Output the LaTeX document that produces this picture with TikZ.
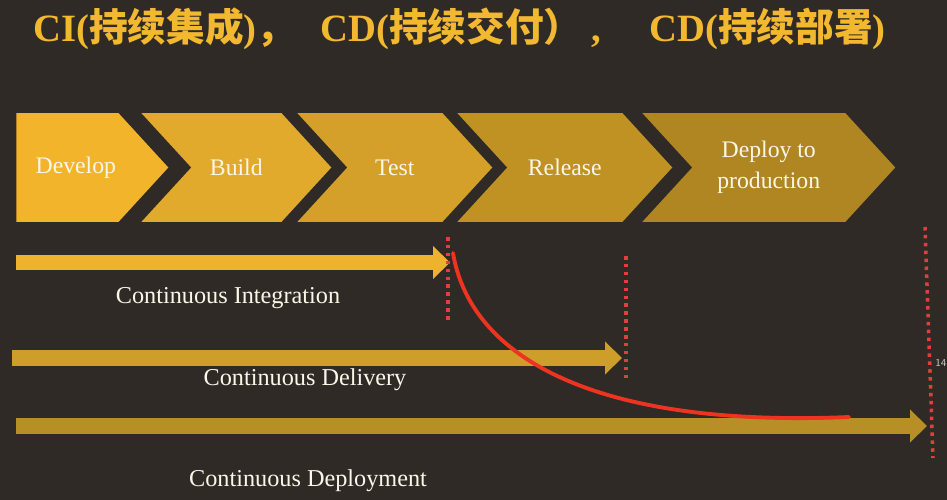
\documentclass[tikz,border=0pt]{standalone}
\usepackage{fontspec}
\setmainfont{Liberation Serif}
\newfontfamily\cjk{Noto Sans CJK SC}
\usetikzlibrary{positioning,shapes.symbols,arrows.meta}

\definecolor{slidebg}{RGB}{47,42,38}
\definecolor{titlegold}{RGB}{242,184,48}
\definecolor{labelwhite}{RGB}{250,246,232}
\definecolor{cutred}{RGB}{238,52,32}
\definecolor{dotred}{RGB}{226,62,62}

\tikzset{
  stage/.style={signal, signal to=east, signal from=west, signal pointer angle=95,
    minimum height=2.18cm, inner sep=0pt, text=labelwhite, align=center,
    font=\fontsize{13.5}{17.6}\selectfont},
  headline/.style={anchor=west, text=titlegold, inner sep=0pt,
    font=\fontsize{22}{24}\selectfont\bfseries},
  bigarrow/.style={line width=0.32cm, -{Triangle[length=0.34cm, width=0.64cm]}},
  dotline/.style={dotred, line width=2pt, line cap=butt, dash pattern=on 2pt off 2.5pt},
  caption/.style={text=labelwhite, font=\fontsize{13.8}{16}\selectfont}
}

\begin{document}
\begin{tikzpicture}[x=0.02cm, y=-0.02cm]
        \fill[slidebg] (0,0) rectangle (947,500);
        \useasboundingbox (0,0) rectangle (947,500);

        \node (ci) [headline] at (33, 29) {CI(\cjk\bfseries 持续集成\rmfamily\bfseries)\cjk\bfseries ，};
        \node (cd) [headline] at (320, 29) {CD(\cjk\bfseries 持续交付）\rmfamily\bfseries\ ,};
        \node (cdeploy) [headline] at (649, 29) {CD(\cjk\bfseries 持续部署\rmfamily\bfseries)};

        \node (develop) [stage, signal from=nowhere, minimum width=3.04cm, fill={rgb,255:red,242;green,180;blue,42}, anchor=west] at (16, 167.5) {\hspace{0.34cm}Develop};
        \node (build) [stage, minimum width=3.8cm, fill={rgb,255:red,226;green,170;blue,44}, right=0.44cm of develop] {Build};
        \node (test) [stage, minimum width=3.9cm, fill={rgb,255:red,212;green,160;blue,42}, right=0.3cm of build] {Test};
        \node (release) [stage, minimum width=4.3cm, fill={rgb,255:red,192;green,146;blue,36}, right=0.28cm of test] {Release};
        \node (deploy) [stage, minimum width=5.06cm, fill={rgb,255:red,176;green,134;blue,34}, right=0.38cm of release] {Deploy to\\production};

        \coordinate (ciStart) at (16, 262.5);
        \coordinate (ciEnd) at (450, 262.5);
        \coordinate (cdStart) at (12, 358);
        \coordinate (cdEnd) at (622, 358);
        \coordinate (depStart) at (16, 426);
        \coordinate (depEnd) at (927, 426);
        \draw[bigarrow, color={rgb,255:red,238;green,178;blue,46}] (ciStart) -- (ciEnd);
        \draw[bigarrow, color={rgb,255:red,206;green,158;blue,42}] (cdStart) -- (cdEnd);
        \draw[bigarrow, color={rgb,255:red,184;green,142;blue,38}] (depStart) -- (depEnd);

        \node (ciText) [caption] at (228, 298) {Continuous Integration};
        \node (cdText) [caption] at (305, 380) {Continuous Delivery};
        \node (depText) [caption] at (308, 481) {Continuous Deployment};

        \coordinate (ciTop) at (448, 237);
        \coordinate (ciBot) at (448, 322);
        \coordinate (cdTop) at (626, 256);
        \coordinate (cdBot) at (626, 382);
        \coordinate (depTop) at (925, 227);
        \coordinate (depBot) at (933, 458);
        \draw[dotline] (ciTop) -- (ciBot);
        \draw[dotline] (cdTop) -- (cdBot);
        \draw[dotline] (depTop) -- (depBot);

        \coordinate (cutStart) at (453, 253);
        \coordinate (cutEnd) at (849, 417);
        \draw[cutred, line width=2.2pt, line cap=round] (cutStart) .. controls (470, 355) and (590, 428) .. (cutEnd);

        \node (page) [text={rgb,255:red,200;green,200;blue,196}, font=\sffamily\fontsize{6}{7}\selectfont, anchor=west, inner sep=0pt] at (935, 363) {14};
      \end{tikzpicture}
\end{document}
